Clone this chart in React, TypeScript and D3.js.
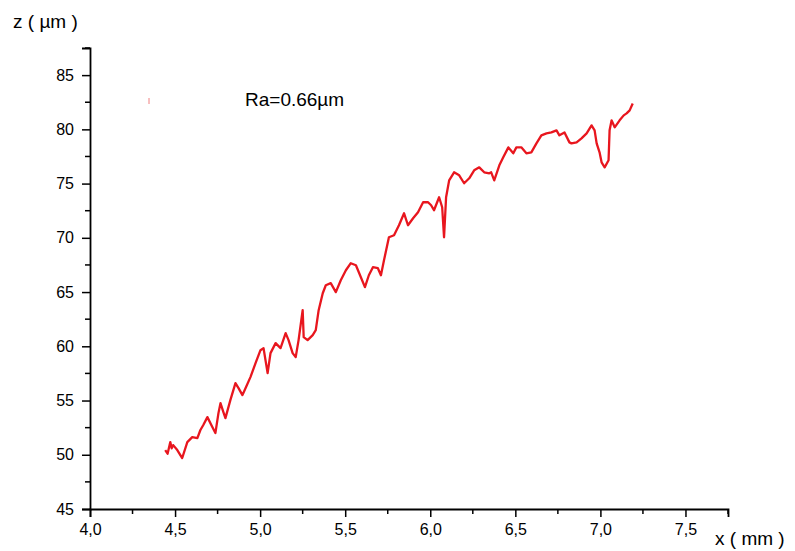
import React, { useEffect, useRef } from 'react';
import * as d3 from 'd3';

// surface profile, [x (mm), z (µm)]
const profile: [number, number][] = [
  [4.442, 50.43], [4.456, 50.1], [4.472, 51.17], [4.48, 50.6], [4.489, 50.89], [4.513, 50.43], [4.542, 49.7],
  [4.572, 51.17], [4.601, 51.63], [4.631, 51.54], [4.649, 52.28], [4.666, 52.74],
  [4.69, 53.47], [4.719, 52.55], [4.737, 52.0], [4.755, 53.84], [4.767, 54.76],
  [4.784, 53.93], [4.796, 53.38], [4.825, 55.04], [4.855, 56.61], [4.873, 56.14],
  [4.896, 55.5], [4.914, 56.14], [4.943, 57.16], [4.973, 58.45], [5.002, 59.64],
  [5.02, 59.83], [5.044, 57.53], [5.061, 59.37], [5.091, 60.29], [5.12, 59.83],
  [5.15, 61.21], [5.167, 60.57], [5.191, 59.37], [5.209, 59.0], [5.226, 60.57],
  [5.25, 63.33], [5.256, 60.84], [5.279, 60.57], [5.309, 61.03], [5.327, 61.49],
  [5.344, 63.33], [5.368, 64.89], [5.386, 65.63], [5.415, 65.82], [5.445, 64.99],
  [5.474, 66.09], [5.504, 67.01], [5.533, 67.66], [5.563, 67.47], [5.58, 66.83],
  [5.616, 65.45], [5.639, 66.55], [5.663, 67.29], [5.692, 67.2], [5.71, 66.55],
  [5.728, 67.93], [5.757, 70.05], [5.787, 70.24], [5.816, 71.16], [5.846, 72.26],
  [5.869, 71.16], [5.899, 71.8], [5.928, 72.36], [5.958, 73.28], [5.987, 73.28],
  [6.005, 73.0], [6.022, 72.54], [6.052, 73.74], [6.07, 72.82], [6.081, 70.05],
  [6.093, 73.74], [6.111, 75.3], [6.14, 76.04], [6.17, 75.76], [6.199, 75.03],
  [6.229, 75.49], [6.258, 76.22], [6.288, 76.5], [6.317, 76.04], [6.347, 75.95],
  [6.358, 76.04], [6.376, 75.3], [6.406, 76.68], [6.429, 77.42], [6.459, 78.34],
  [6.488, 77.79], [6.506, 78.34], [6.535, 78.34], [6.565, 77.79], [6.594, 77.88],
  [6.624, 78.71], [6.653, 79.45], [6.683, 79.63], [6.712, 79.72], [6.742, 79.91],
  [6.759, 79.45], [6.789, 79.72], [6.818, 78.8], [6.83, 78.71], [6.86, 78.8],
  [6.889, 79.17], [6.919, 79.63], [6.948, 80.37], [6.966, 79.91], [6.978, 78.71],
  [6.995, 77.88], [7.007, 76.96], [7.025, 76.5], [7.048, 77.15], [7.054, 79.91],
  [7.066, 80.83], [7.084, 80.19], [7.113, 80.83], [7.137, 81.29], [7.154, 81.47],
  [7.172, 81.75], [7.19, 82.39],
];

const xTicks = [4.0, 4.5, 5.0, 5.5, 6.0, 6.5, 7.0, 7.5];
const xMinorTicks = [4.25, 4.75, 5.25, 5.75, 6.25, 6.75, 7.25, 7.75];
const yTicks = [45, 50, 55, 60, 65, 70, 75, 80, 85];
const yMinorTicks = [47.5, 52.5, 57.5, 62.5, 67.5, 72.5, 77.5, 82.5, 87.5];

const xTitle = 'x ( mm )';
const yTitle = 'z ( µm )';
const note = 'Ra=0.66µm';

const App: React.FC = () => {
  const svgRef = useRef<SVGSVGElement>(null);

  useEffect(() => {
    if (!svgRef.current) return;
    const svg = d3.select(svgRef.current);
    svg.selectAll('*').remove();

    const width = 795;
    const height = 551;
    const font = '"Liberation Sans", Arial, sans-serif';
    svg.attr('width', width).attr('height', height);

    const x = d3.scaleLinear().domain([4, 7.75]).range([90, 728]);
    const y = d3.scaleLinear().domain([45, 87.5]).range([509, 48]);

    // x axis
    const gx = svg.append('g').attr('transform', `translate(0,${y(45)})`);
    gx.call(
      d3.axisBottom(x)
        .tickValues(xTicks)
        .tickSize(8)
        .tickPadding(7)
        .tickFormat(d => d3.format('.1f')(d as number).replace('.', ','))
    );
    gx.append('g')
      .selectAll('line')
      .data(xMinorTicks)
      .enter()
      .append('line')
      .attr('x1', d => x(d))
      .attr('x2', d => x(d))
      .attr('y1', 0)
      .attr('y2', 5)
      .attr('stroke', '#000')
      .attr('stroke-width', 1.5);

    // y axis
    const gy = svg.append('g').attr('transform', `translate(${x(4)},0)`);
    gy.call(d3.axisLeft(y).tickValues(yTicks).tickSize(8).tickPadding(8));
    gy.append('g')
      .selectAll('line')
      .data(yMinorTicks)
      .enter()
      .append('line')
      .attr('x1', 0)
      .attr('x2', -5)
      .attr('y1', d => y(d))
      .attr('y2', d => y(d))
      .attr('stroke', '#000')
      .attr('stroke-width', 1.5);

    svg.selectAll('.domain').attr('stroke', '#000').attr('stroke-width', 1.8);
    svg.selectAll('.tick line').attr('stroke', '#000').attr('stroke-width', 1.5);
    svg
      .selectAll('.tick text')
      .attr('fill', '#000')
      .style('font-family', font)
      .style('font-size', '16px');

    // profile line
    const line = d3
      .line<[number, number]>()
      .x(d => x(d[0]))
      .y(d => y(d[1]));
    svg
      .append('path')
      .datum(profile)
      .attr('d', line)
      .attr('fill', 'none')
      .attr('stroke', '#e8161e')
      .attr('stroke-width', 2.3)
      .attr('stroke-linejoin', 'round');

    // small legend mark
    svg
      .append('line')
      .attr('x1', 149)
      .attr('x2', 149)
      .attr('y1', 98)
      .attr('y2', 104)
      .attr('stroke', '#f08080')
      .attr('stroke-width', 1);

    // titles
    svg
      .append('text')
      .attr('x', 715)
      .attr('y', 545)
      .style('font-family', font)
      .style('font-size', '19px')
      .text(xTitle);
    svg
      .append('text')
      .attr('x', 13)
      .attr('y', 28)
      .style('font-family', font)
      .style('font-size', '19px')
      .text(yTitle);
    svg
      .append('text')
      .attr('x', 245)
      .attr('y', 106)
      .style('font-family', font)
      .style('font-size', '19px')
      .text(note);
  }, []);

  return (
    <svg
      ref={svgRef}
      style={{ position: 'absolute', left: 0, top: 0, background: '#fff' }}
    />
  );
};

export default App;
